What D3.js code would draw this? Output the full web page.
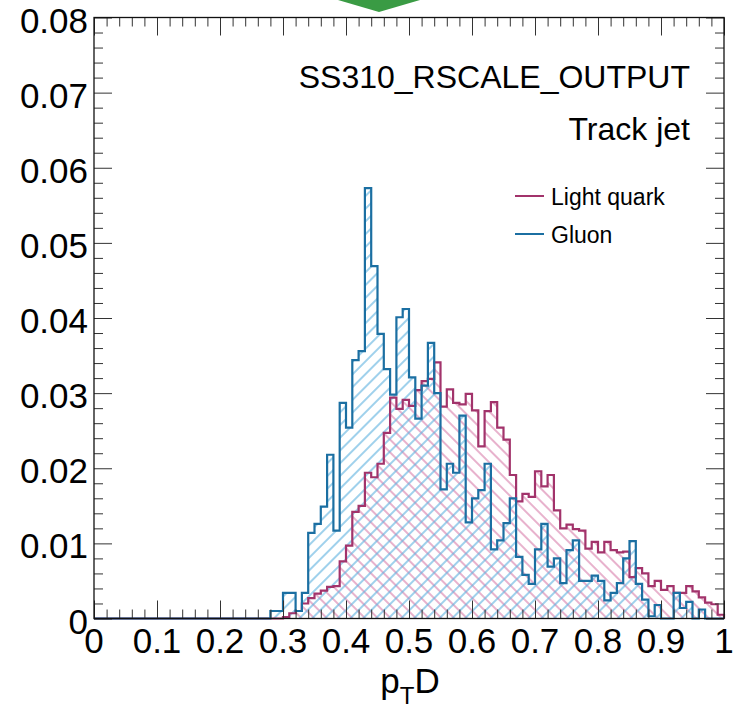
<!DOCTYPE html>
<html>
<head>
<meta charset="utf-8">
<script src="https://cdn.jsdelivr.net/npm/d3@7"></script>
<style>
  html, body { margin: 0; padding: 0; background: #fff; }
  svg { display: block; font-family: "Liberation Sans", Arial, Helvetica, sans-serif; }
</style>
</head>
<body>
<div id="chart"></div>
<script>
// histogram binning: 100 bins of 0.01 on [0, 1]
const binRange = [0, 1];
const nBins = 100;

// normalised bin contents
const lightQuark = [
  0, 0, 0, 0, 0, 0, 0, 0, 0, 0,
  0, 0, 0, 0, 0, 0, 0, 0, 0, 0,
  0, 0, 0, 0, 0, 0, 0, 0, 0, 0,
  0.0002, 0.0007, 0.0010, 0.0020, 0.0027, 0.0033, 0.0037, 0.0042, 0.0043, 0.0076,
  0.0097, 0.0142, 0.0150, 0.0194, 0.0188, 0.0206, 0.0247, 0.0294, 0.0279, 0.0291,
  0.0283, 0.0304, 0.0316, 0.0319, 0.0341, 0.0282, 0.0305, 0.0287, 0.0285, 0.0299,
  0.0277, 0.0229, 0.0276, 0.0288, 0.0254, 0.0238, 0.0191, 0.0156, 0.0166, 0.0162,
  0.0196, 0.0176, 0.0191, 0.0144, 0.0120, 0.0125, 0.0119, 0.0117, 0.0093, 0.0102,
  0.0088, 0.0102, 0.0091, 0.0088, 0.0089, 0.0055, 0.0067, 0.0060, 0.0043, 0.0050,
  0.0038, 0.0043, 0.0034, 0.0034, 0.0043, 0.0036, 0.0028, 0.0021, 0.0019, 0.0005
];

const gluon = [
  0, 0, 0, 0, 0, 0, 0, 0, 0, 0,
  0, 0, 0, 0, 0, 0, 0, 0, 0, 0,
  0, 0, 0, 0, 0, 0, 0, 0, 0.0010, 0.0010,
  0.0034, 0.0034, 0.0010, 0.0034, 0.0114, 0.0126, 0.0149, 0.0218, 0.0117, 0.0287,
  0.0254, 0.0344, 0.0356, 0.0573, 0.0469, 0.0379, 0.0332, 0.0298, 0.0401, 0.0412,
  0.0321, 0.0266, 0.0310, 0.0367, 0.0300, 0.0172, 0.0206, 0.0194, 0.0270, 0.0128,
  0.0160, 0.0171, 0.0206, 0.0092, 0.0104, 0.0127, 0.0160, 0.0082, 0.0058, 0.0046,
  0.0092, 0.0126, 0.0069, 0.0080, 0.0047, 0.0091, 0.0104, 0.0050, 0.0050, 0.0057,
  0.0050, 0.0024, 0.0034, 0.0047, 0.0080, 0.0103, 0.0046, 0.0025, 0.0003, 0.0018,
  0, 0, 0.0034, 0.0014, 0.0022, 0, 0.0012, 0, 0, 0
];

const seriesNames = ["Light quark", "Gluon"];

// axis ticks
const xMajor = [0, 0.1, 0.2, 0.3, 0.4, 0.5, 0.6, 0.7, 0.8, 0.9, 1];
const xLabels = ["0", "0.1", "0.2", "0.3", "0.4", "0.5", "0.6", "0.7", "0.8", "0.9", "1"];
const yMajor = [0, 0.01, 0.02, 0.03, 0.04, 0.05, 0.06, 0.07, 0.08];
const yLabels = ["0", "0.01", "0.02", "0.03", "0.04", "0.05", "0.06", "0.07", "0.08"];
const xMinorStep = 0.02, yMinorStep = 0.002;

const width = 733, height = 726;
const margin = { top: 17.5, right: 9, bottom: 107.5, left: 94 };

const svg = d3.select("#chart")
  .append("svg")
  .attr("width", width)
  .attr("height", height);

const x = d3.scaleLinear()
  .domain([0, 1])
  .range([margin.left, width - margin.right]);

const y = d3.scaleLinear()
  .domain([0, 0.08])
  .range([height - margin.bottom, margin.top]);

// hatch patterns (ROOT style fill 3004 / 3005)
const defs = svg.append("defs");
function hatch(id, angle, color) {
  const p = defs.append("pattern")
    .attr("id", id)
    .attr("patternUnits", "userSpaceOnUse")
    .attr("width", 9)
    .attr("height", 9)
    .attr("patternTransform", `rotate(${angle})`);
  p.append("line")
    .attr("x1", 1).attr("y1", 0)
    .attr("x2", 1).attr("y2", 9)
    .attr("stroke", color)
    .attr("stroke-width", 1.2);
}
hatch("hatchQuark", -45, "#d97fab");
hatch("hatchGluon", 45, "#5fb2e0");

const binWidth = (binRange[1] - binRange[0]) / nBins;

// step points from bin contents
function stepPoints(vals) {
  const pts = vals.map((v, i) => [binRange[0] + i * binWidth, v]);
  pts.push([binRange[1], vals[vals.length - 1]]);
  pts.push([binRange[1], 0]);
  return pts;
}

const area = d3.area()
  .curve(d3.curveStepAfter)
  .x(d => x(d[0]))
  .y0(y(0))
  .y1(d => y(d[1]));

const line = d3.line()
  .curve(d3.curveStepAfter)
  .x(d => x(d[0]))
  .y(d => y(d[1]));

const hists = [
  { name: seriesNames[0], vals: lightQuark, line: "#a2336b", fill: "url(#hatchQuark)" },
  { name: seriesNames[1], vals: gluon, line: "#1b6fa2", fill: "url(#hatchGluon)" }
];

// hatched fills first, outlines on top
const plot = svg.append("g");
hists.forEach(h => {
  plot.append("path")
    .attr("d", area(stepPoints(h.vals)))
    .attr("fill", h.fill)
    .attr("stroke", "none");
});
hists.forEach(h => {
  plot.append("path")
    .attr("d", line(stepPoints(h.vals)))
    .attr("fill", "none")
    .attr("stroke", h.line)
    .attr("stroke-width", 2.2)
    .attr("stroke-linejoin", "miter");
});

// ticks on all four sides, pointing inwards
const xMinor = d3.range(0, 1 + 1e-9, xMinorStep).filter(v => !xMajor.some(m => Math.abs(m - v) < 1e-9));
const yMinor = d3.range(0, 0.08 + 1e-9, yMinorStep).filter(v => !yMajor.some(m => Math.abs(m - v) < 1e-9));
const bottom = height - margin.bottom, right = width - margin.right;

function tickAxis(axis, transform) {
  const g = svg.append("g")
    .attr("transform", transform)
    .call(axis);
  g.select(".domain").remove();
  g.selectAll("line").attr("stroke", "#333").attr("stroke-width", 1);
  g.selectAll("text").remove();
}
tickAxis(d3.axisBottom(x).tickValues(xMajor).tickSize(-18), `translate(0,${bottom})`);
tickAxis(d3.axisBottom(x).tickValues(xMinor).tickSize(-9), `translate(0,${bottom})`);
tickAxis(d3.axisTop(x).tickValues(xMajor).tickSize(-18), `translate(0,${margin.top})`);
tickAxis(d3.axisTop(x).tickValues(xMinor).tickSize(-9), `translate(0,${margin.top})`);
tickAxis(d3.axisLeft(y).tickValues(yMajor).tickSize(-18), `translate(${margin.left},0)`);
tickAxis(d3.axisLeft(y).tickValues(yMinor).tickSize(-9), `translate(${margin.left},0)`);
tickAxis(d3.axisRight(y).tickValues(yMajor).tickSize(-18), `translate(${right},0)`);
tickAxis(d3.axisRight(y).tickValues(yMinor).tickSize(-9), `translate(${right},0)`);

// frame
svg.append("rect")
  .attr("x", margin.left)
  .attr("y", margin.top)
  .attr("width", right - margin.left)
  .attr("height", bottom - margin.top)
  .attr("fill", "none")
  .attr("stroke", "#111")
  .attr("stroke-width", 1.3);

// tick labels
svg.append("g")
  .selectAll("text")
  .data(xMajor)
  .join("text")
  .attr("x", d => x(d))
  .attr("y", bottom + 34)
  .attr("text-anchor", "middle")
  .attr("font-size", 35)
  .attr("fill", "#000")
  .text((d, i) => xLabels[i]);

svg.append("g")
  .selectAll("text")
  .data(yMajor)
  .join("text")
  .attr("x", margin.left - 6)
  .attr("y", d => y(d) + 15)
  .attr("text-anchor", "end")
  .attr("font-size", 35)
  .attr("fill", "#000")
  .text((d, i) => yLabels[i]);

// x axis title: p_T D
const title = svg.append("text")
  .attr("x", (margin.left + right) / 2 + 1)
  .attr("y", 693)
  .attr("text-anchor", "middle")
  .attr("font-size", 35)
  .attr("fill", "#000");
title.append("tspan").text("p");
title.append("tspan").attr("font-size", 24).attr("dy", 11).text("T");
title.append("tspan").attr("dy", -11).text("D");

// labels in the pad
svg.append("text")
  .attr("x", 690)
  .attr("y", 88)
  .attr("text-anchor", "end")
  .attr("font-size", 32)
  .attr("fill", "#000")
  .text("SS310_RSCALE_OUTPUT");

svg.append("text")
  .attr("x", 690)
  .attr("y", 140)
  .attr("text-anchor", "end")
  .attr("font-size", 32)
  .attr("fill", "#000")
  .text("Track jet");

// legend
const legend = svg.append("g")
  .selectAll("g")
  .data(hists)
  .join("g")
  .attr("transform", (d, i) => `translate(515,${196 + i * 38})`);
legend.append("line")
  .attr("x1", 0).attr("x2", 29)
  .attr("y1", 0).attr("y2", 0)
  .attr("stroke", d => d.line)
  .attr("stroke-width", 2);
legend.append("text")
  .attr("x", 36)
  .attr("y", 8.5)
  .attr("font-size", 23)
  .attr("fill", "#000")
  .text(d => d.name);

// green marker peeking in at the top of the picture
svg.append("path")
  .attr("d", "M338,0 L420,0 L379,12 Z")
  .attr("fill", "#3a9b44");
</script>
</body>
</html>
